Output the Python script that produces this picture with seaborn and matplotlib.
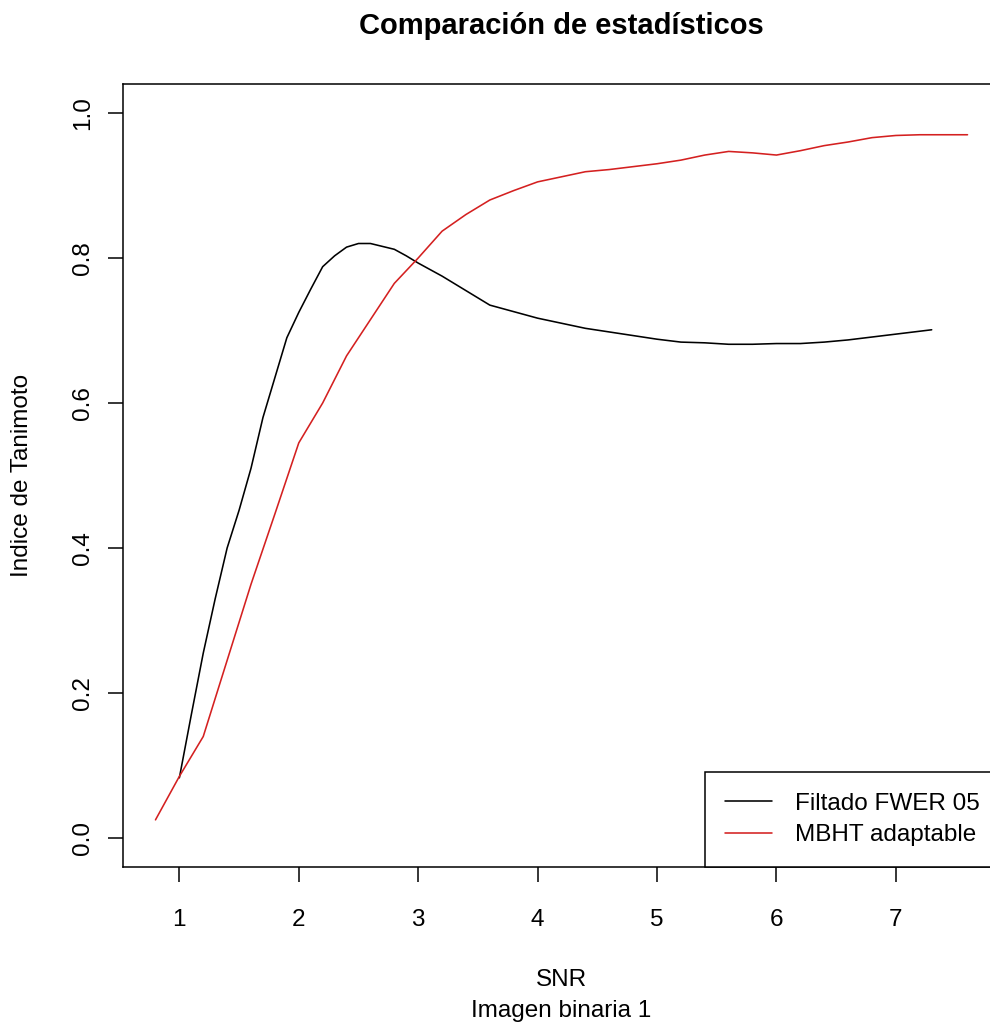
import numpy as np
import pandas as pd
import matplotlib
matplotlib.use("Agg")
import matplotlib.pyplot as plt
import seaborn as sns

# ---- data ----
snr_fwer = [1.0, 1.1, 1.2, 1.3, 1.4, 1.5, 1.6, 1.7, 1.8, 1.9, 2.0,
            2.1, 2.2, 2.3, 2.4, 2.5, 2.6, 2.7, 2.8, 2.9, 3.0,
            3.2, 3.4, 3.6, 3.8, 4.0, 4.2, 4.4, 4.6, 4.8, 5.0,
            5.2, 5.4, 5.6, 5.8, 6.0, 6.2, 6.4, 6.6, 6.8, 7.0, 7.2, 7.3]
tanimoto_fwer = [0.083, 0.170, 0.255, 0.330, 0.400, 0.452, 0.510, 0.580, 0.635, 0.690, 0.725,
                 0.757, 0.788, 0.803, 0.815, 0.820, 0.820, 0.816, 0.812, 0.803, 0.793,
                 0.775, 0.755, 0.735, 0.726, 0.717, 0.710, 0.703, 0.698, 0.693, 0.688,
                 0.684, 0.683, 0.681, 0.681, 0.682, 0.682, 0.684, 0.687, 0.691, 0.695, 0.699, 0.701]

snr_mbht = [0.8, 1.0, 1.2, 1.4, 1.6, 1.8, 2.0, 2.2, 2.4, 2.6, 2.8, 3.0,
            3.2, 3.4, 3.6, 3.8, 4.0, 4.2, 4.4, 4.6, 4.8, 5.0,
            5.2, 5.4, 5.6, 5.8, 6.0, 6.2, 6.4, 6.6, 6.8, 7.0, 7.2, 7.4, 7.6]
tanimoto_mbht = [0.025, 0.085, 0.140, 0.245, 0.350, 0.447, 0.545, 0.600, 0.665, 0.715, 0.765, 0.800,
                 0.837, 0.860, 0.880, 0.893, 0.905, 0.912, 0.919, 0.922, 0.926, 0.930,
                 0.935, 0.942, 0.947, 0.945, 0.942, 0.948, 0.955, 0.960, 0.966, 0.969, 0.970, 0.970, 0.970]

series_names = ["Filtado FWER 05", "MBHT adaptable"]
series_colors = ["black", "#d42020"]

x_ticks = [1, 2, 3, 4, 5, 6, 7]
y_ticks = [0.0, 0.2, 0.4, 0.6, 0.8, 1.0]

title = "Comparación de estadísticos"
xlabel = "SNR"
ylabel = "Indice de Tanimoto"
subtitle = "Imagen binaria 1"

df = pd.concat([
    pd.DataFrame({"SNR": snr_fwer, "Tanimoto": tanimoto_fwer, "Serie": series_names[0]}),
    pd.DataFrame({"SNR": snr_mbht, "Tanimoto": tanimoto_mbht, "Serie": series_names[1]}),
], ignore_index=True)

# ---- style ----
sns.set_theme(style="ticks")
plt.rcParams["font.family"] = ["Liberation Sans", "DejaVu Sans"]
plt.rcParams["text.color"] = "black"
plt.rcParams["axes.labelcolor"] = "black"
plt.rcParams["axes.edgecolor"] = "black"
plt.rcParams["axes.linewidth"] = 1.1
plt.rcParams["xtick.color"] = "black"
plt.rcParams["ytick.color"] = "black"
plt.rcParams["xtick.labelcolor"] = "black"
plt.rcParams["ytick.labelcolor"] = "black"

FS = 17.5

fig = plt.figure(figsize=(9.9, 10.26), dpi=100)
ax = fig.add_axes([123 / 990, (1026 - 867) / 1026, (1000 - 123) / 990, (867 - 84) / 1026])

sns.lineplot(data=df, x="SNR", y="Tanimoto", hue="Serie", hue_order=series_names,
             palette=dict(zip(series_names, series_colors)), linewidth=1.15,
             estimator=None, sort=False, ax=ax)

# R-style limits (4% extension)
xmin, xmax = min(min(snr_fwer), min(snr_mbht)), max(max(snr_fwer), max(snr_mbht))
xr = xmax - xmin
ax.set_xlim(xmin - 0.04 * xr, xmax + 0.04 * xr)
ax.set_ylim(-0.04, 1.04)

ax.set_xticks(x_ticks)
ax.set_xticklabels([str(v) for v in x_ticks])
ax.set_yticks(y_ticks)
ax.set_yticklabels([f"{v:.1f}" for v in y_ticks], rotation=90, va="center")

ax.tick_params(axis="both", direction="out", length=11, width=1.1, labelsize=FS,
               colors="black", labelcolor="black")
ax.tick_params(axis="x", pad=19)
ax.tick_params(axis="y", pad=10)

for s in ax.spines.values():
    s.set_visible(True)
    s.set_color("black")
    s.set_linewidth(1.1)

ax.set_title(title, fontsize=21, fontweight="bold", pad=36, color="black")

ax.set_xlabel(xlabel, fontsize=FS, color="black")
ax.xaxis.set_label_coords(0.5, (867 - 980) / 783)
ax.xaxis.label.set_va("center")

ax.set_ylabel(ylabel, fontsize=FS, color="black")
ax.yaxis.set_label_coords((22 - 123) / 877, 0.5)
ax.yaxis.label.set_va("center")

ax.text(0.5, (867 - 1011) / 783, subtitle, transform=ax.transAxes,
        ha="center", va="center", fontsize=FS, color="black")

leg = ax.legend(loc="lower right", bbox_to_anchor=(1.0, 0.0), borderaxespad=0.0,
                frameon=True, fancybox=False, edgecolor="black", framealpha=1.0,
                fontsize=FS, handlelength=1.9, handletextpad=0.95,
                borderpad=0.85, labelspacing=0.4, title=None)
leg.get_frame().set_linewidth(1.1)
for line in leg.get_lines():
    line.set_linewidth(1.15)
for t in leg.get_texts():
    t.set_color("black")

fig.savefig("out.png", dpi=100)
